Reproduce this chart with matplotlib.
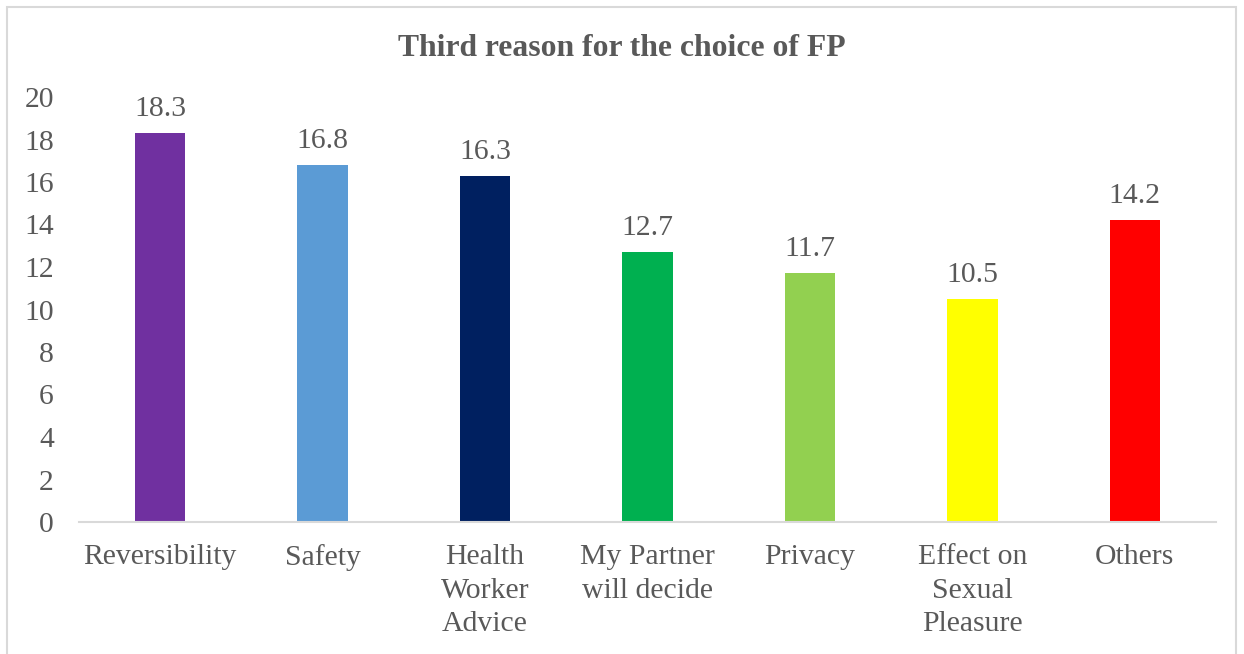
import matplotlib
matplotlib.use("Agg")
import matplotlib.pyplot as plt
from matplotlib.patches import Rectangle

categories = ["Reversibility", "Safety", "Health\nWorker\nAdvice", "My Partner\nwill decide",
              "Privacy", "Effect on\nSexual\nPleasure", "Others"]
values = [18.3, 16.8, 16.3, 12.7, 11.7, 10.5, 14.2]
colors = ["#7030A0", "#5B9BD5", "#002060", "#00B050", "#92D050", "#FFFF00", "#FF0000"]
yticks = [0, 2, 4, 6, 8, 10, 12, 14, 16, 18, 20]
title = "Third reason for the choice of FP"

plt.rcParams['font.family'] = ['Liberation Serif', 'DejaVu Serif']
txt = "#595959"

W, H = 1244, 654
fig = plt.figure(figsize=(W/100, H/100), dpi=100)
fig.patches.append(Rectangle((7/W, -0.1), (1236-7)/W, (H-7)/H + 0.1, transform=fig.transFigure,
                             fill=False, edgecolor="#D9D9D9", linewidth=1.5))
ax = fig.add_axes([79/W, 1-522/H, (1216-79)/W, (522-97)/H])
x = list(range(len(categories)))
ax.bar(x, values, width=0.31, color=colors, zorder=2)
ax.set_xlim(-0.5, len(categories)-0.5)
ax.set_ylim(0, 20)
ax.set_yticks(yticks)
ax.set_yticklabels([str(v) for v in yticks], fontsize=21.3, color=txt)
ax.set_xticks(x)
ax.set_xticklabels(categories, fontsize=21.4, color=txt, linespacing=1.37, va="top")
ax.tick_params(axis='y', length=0, pad=18)
ax.tick_params(axis='x', length=0, pad=16)
for s in ["top", "right", "left"]:
    ax.spines[s].set_visible(False)
ax.spines["bottom"].set_color("#D9D9D9")
ax.spines["bottom"].set_linewidth(1.5)
for xi, v in zip(x, values):
    ax.annotate(f"{v}", (xi, v), xytext=(0, 8), textcoords="offset points",
                ha="center", va="bottom", fontsize=21.3, color=txt)
fig.text(0.5, 1-48/H, title, ha="center", va="center", fontsize=22.8, fontweight="bold", color=txt)
fig.savefig("out.png", dpi=100)
